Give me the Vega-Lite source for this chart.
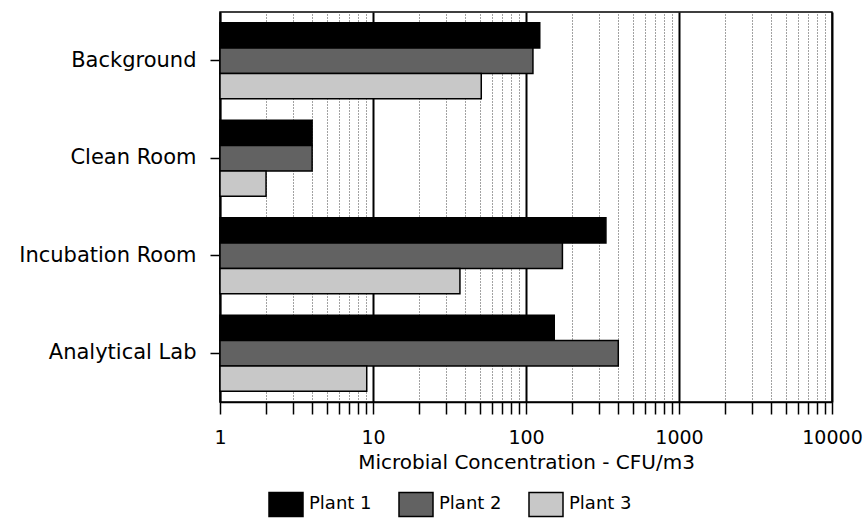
{
  "$schema": "https://vega.github.io/schema/vega-lite/v6.json",
  "width": 612,
  "height": 390,
  "autosize": {"type": "none"},
  "padding": {"left": 220, "top": 12, "right": 36, "bottom": 121},
  "background": "white",
  "config": {
    "font": "DejaVu Sans",
    "view": {"stroke": "black", "strokeWidth": 1.5}
  },
  "data": {
    "values": [
      {"location": "Background", "plant": "Plant 1", "cfu": 123},
      {"location": "Background", "plant": "Plant 2", "cfu": 111},
      {"location": "Background", "plant": "Plant 3", "cfu": 51},
      {"location": "Clean Room", "plant": "Plant 1", "cfu": 4},
      {"location": "Clean Room", "plant": "Plant 2", "cfu": 4},
      {"location": "Clean Room", "plant": "Plant 3", "cfu": 2},
      {"location": "Incubation Room", "plant": "Plant 1", "cfu": 333},
      {"location": "Incubation Room", "plant": "Plant 2", "cfu": 173},
      {"location": "Incubation Room", "plant": "Plant 3", "cfu": 37},
      {"location": "Analytical Lab", "plant": "Plant 1", "cfu": 153},
      {"location": "Analytical Lab", "plant": "Plant 2", "cfu": 401},
      {"location": "Analytical Lab", "plant": "Plant 3", "cfu": 9.1}
    ]
  },
  "mark": {"type": "bar", "stroke": "black", "strokeWidth": 1.5, "opacity": 1},
  "encoding": {
    "y": {
      "field": "location",
      "type": "nominal",
      "sort": ["Background", "Clean Room", "Incubation Room", "Analytical Lab"],
      "scale": {"paddingInner": 0.22, "paddingOuter": 0.11},
      "axis": {
        "title": null,
        "labelFontSize": 21,
        "labelColor": "black",
        "labelPadding": 14,
        "tickColor": "black",
        "tickSize": 10,
        "tickWidth": 1.5,
        "domainColor": "black",
        "domainWidth": 1.5
      }
    },
    "yOffset": {
      "field": "plant",
      "type": "nominal",
      "sort": ["Plant 1", "Plant 2", "Plant 3"],
      "scale": {"paddingInner": 0, "paddingOuter": 0}
    },
    "x": {
      "field": "cfu",
      "type": "quantitative",
      "title": "Microbial Concentration - CFU/m3",
      "scale": {"type": "log", "domain": [1, 10000]},
      "axis": {
        "values": [1,2,3,4,5,6,7,8,9,10,20,30,40,50,60,70,80,90,100,200,300,400,500,600,700,800,900,1000,2000,3000,4000,5000,6000,7000,8000,9000,10000],
        "labelExpr": "indexof([1,10,100,1000,10000], datum.value) >= 0 ? '' + datum.value : ''",
        "labelFlush": false,
        "labelOverlap": false,
        "labelFontSize": 19,
        "labelColor": "black",
        "labelPadding": 14,
        "titleFontSize": 20,
        "titleFontWeight": "normal",
        "titleColor": "black",
        "titlePadding": 5,
        "tickColor": "black",
        "tickSize": 12,
        "tickWidth": 1.5,
        "domainColor": "black",
        "domainWidth": 1.5,
        "grid": true,
        "gridColor": {"condition": {"test": "indexof([1,10,100,1000,10000], datum.value) >= 0", "value": "black"}, "value": "#444444"},
        "gridDash": {"condition": {"test": "indexof([1,10,100,1000,10000], datum.value) >= 0", "value": []}, "value": [1, 2]},
        "gridWidth": {"condition": {"test": "indexof([1,10,100,1000,10000], datum.value) >= 0", "value": 2}, "value": 1},
        "gridOpacity": 1
      }
    },
    "x2": {"datum": 1},
    "fill": {
      "field": "plant",
      "type": "nominal",
      "sort": ["Plant 1", "Plant 2", "Plant 3"],
      "scale": {"range": ["black", "#626262", "#c8c8c8"]},
      "legend": {
        "title": null,
        "orient": "none",
        "legendX": 48,
        "legendY": 474,
        "direction": "horizontal",
        "symbolType": "M-1,-0.71L1,-0.71L1,0.71L-1,0.71Z",
        "symbolSize": 1156,
        "symbolStrokeColor": "black",
        "symbolStrokeWidth": 1.5,
        "symbolOpacity": 1,
        "labelFontSize": 18,
        "labelColor": "black",
        "labelOffset": 5,
        "columnPadding": 24
      }
    }
  }
}
